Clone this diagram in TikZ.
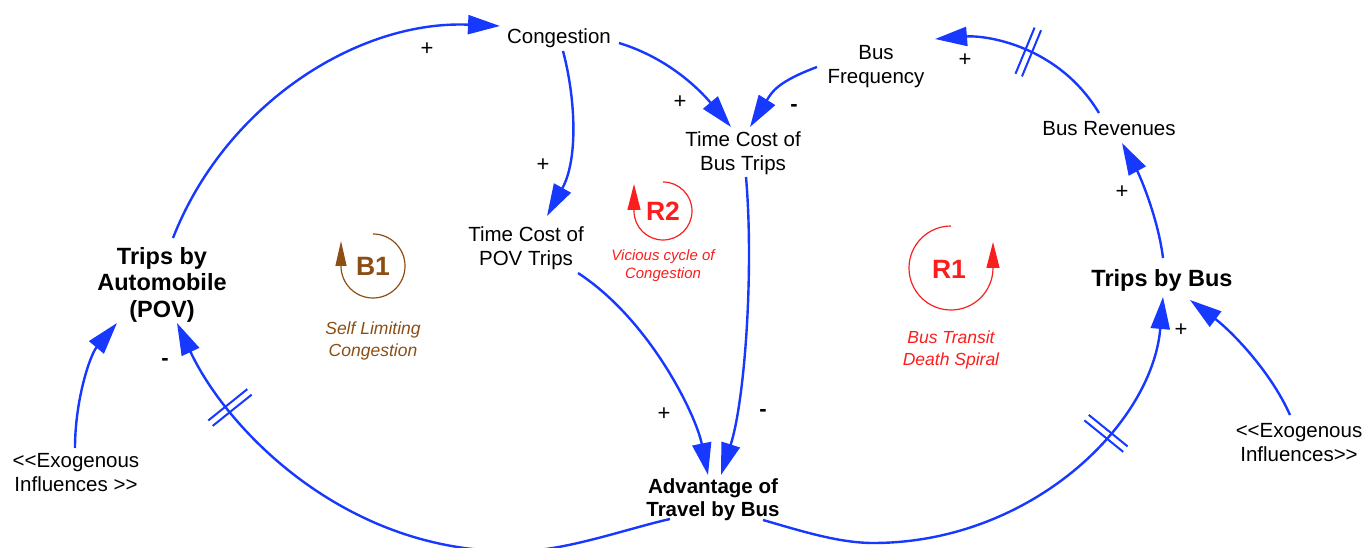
\documentclass[tikz,border=0pt]{standalone}
\usepackage{fontspec}
\setmainfont{Liberation Sans}
\usetikzlibrary{arrows.meta,decorations.markings}
\definecolor{cldblue}{RGB}{22,56,255}
\definecolor{loopred}{RGB}{250,30,30}
\definecolor{loopbrown}{RGB}{140,78,20}
\tikzset{
  var/.style={align=center, inner sep=0pt, font=\fontsize{20.5}{24}\selectfont},
  keyvar/.style={align=center, inner sep=0pt, font=\fontsize{23.5}{26.5}\selectfont\bfseries},
  advvar/.style={align=center, inner sep=0pt, font=\fontsize{20.5}{23}\selectfont\bfseries},
  link/.style={draw=cldblue, line width=2.4pt, -{Triangle[length=32pt,width=19pt]}},
  pol/.style={inner sep=0pt, font=\fontsize{22}{24}\selectfont},
  neg/.style={inner sep=0pt, font=\fontsize{22}{24}\selectfont\bfseries},
  delay/.style={postaction={decorate, decoration={markings, mark=at position #1 with {\draw[cldblue, line width=2pt, -] (-3.5pt,-25pt) -- (-3.5pt,25pt) (3.5pt,-25pt) -- (3.5pt,25pt);}}}},
  loopname/.style={inner sep=0pt, font=\fontsize{26.5}{30}\selectfont\bfseries},
  looptxt/.style={align=center, inner sep=0pt, font=\fontsize{17.5}{22}\selectfont\itshape},
  loopcirc/.style={line width=1.2pt},
}
\begin{document}
\begin{tikzpicture}[x=1pt, y=-1pt]
\useasboundingbox (0,0) rectangle (1366,548);
% variables
\node[var] (cong) at (559,38) {Congestion};
\node[var] (freq) at (876,67) {Bus\\Frequency};
\node[var] (tbus) at (743,153) {Time Cost of\\Bus Trips};
\node[var] (rev) at (1109,129) {Bus Revenues};
\node[keyvar] (tripsbus) at (1162,280) {Trips by Bus};
\node[var] (tpov) at (526,248) {Time Cost of\\POV Trips};
\node[keyvar] (auto) at (162,284.5) {Trips by\\Automobile\\(POV)};
\node[advvar] (adv) at (713,500) {Advantage of\\Travel by Bus};
\node[var] (exoL) at (76,473) {<\kern0pt<Exogenous\\Influences >\kern0pt>};
\node[var] (exoR) at (1299,443) {<\kern0pt<Exogenous\\Influences>\kern0pt>};
% links
\draw[link] ([shift={(11,-46.5)}]auto.center) .. controls (225,105) and (357,20) .. ([shift={(-59,-12)}]cong.center);
\draw[link] ([shift={(60,5)}]cong.center) .. controls (668,58) and (699,89) .. ([shift={(-12,-26)}]tbus.center);
\draw[link] ([shift={(4,13)}]cong.center) .. controls (576,100) and (578,160) .. ([shift={(21,-32)}]tpov.center);
\draw[link] ([shift={(-59,0)}]freq.center) .. controls (777,82) and (772,92) .. ([shift={(7,-26)}]tbus.center);
\draw[link, delay=0.5] ([shift={(-10,-16)}]rev.center) .. controls (1058,45) and (985,35) .. ([shift={(59,-28)}]freq.center);
\draw[link] ([shift={(1,-22)}]tripsbus.center) .. controls (1158,218) and (1140,176) .. ([shift={(13,14)}]rev.center);
\draw[link] ([shift={(52,25)}]tpov.center) .. controls (650,320) and (696,415) .. ([shift={(-5,-25)}]adv.center);
\draw[link] ([shift={(3,24)}]tbus.center) .. controls (754,270) and (745,400) .. ([shift={(8,-25)}]adv.center);
\draw[link, delay=-150pt] ([shift={(50,20)}]adv.center) .. controls (798,530) and (838,543) .. (873,543)
   .. controls (1030,543) and (1152,425) .. ([shift={(1,17)}]tripsbus.center);
\draw[link, delay=-100pt] ([shift={(-43,19)}]adv.center) .. controls (626,529) and (565,551) .. (520,551)
   .. controls (350,556) and (228,432) .. ([shift={(15,38.5)}]auto.center);
\draw[link] ([shift={(-1,-25)}]exoL.center) .. controls (75,400) and (90,355) .. ([shift={(-45,38.5)}]auto.center);
\draw[link] ([shift={(-9,-28)}]exoR.center) .. controls (1270,370) and (1230,330) .. ([shift={(28,20)}]tripsbus.center);
% polarities
\node[pol] (s1) at (427,49) {+};
\node[pol] (s2) at (680,102) {+};
\node[neg] (s3) at (794,108) {-};
\node[pol] (s4) at (543,165) {+};
\node[pol] (s5) at (965,60) {+};
\node[pol] (s6) at (1122,192) {+};
\node[pol] (s7) at (1181,330) {+};
\node[neg] (s8) at (165,362) {-};
\node[pol] (s9) at (664,414) {+};
\node[neg] (s10) at (763,413) {-};
% loops
\node[loopname, text=loopbrown] (b1) at (373,266) {B1};
\draw[loopbrown, loopcirc, -{Triangle[length=25pt,width=11pt]}] (b1.center) ++(90:32pt) arc[start angle=90, end angle=-180, radius=32pt] -- ++(0pt,25pt);
\node[looptxt, text=loopbrown] (b1t) at (373,341) {Self Limiting\\Congestion};
\node[loopname, text=loopred] (r2) at (663,211) {R2};
\draw[loopred, loopcirc, -{Triangle[length=26pt,width=13pt]}] (r2.center) ++(90:29pt) arc[start angle=90, end angle=-180, radius=29pt] -- ++(0pt,27pt);
\node[looptxt, text=loopred, font=\fontsize{15}{18}\selectfont\itshape] (r2t) at (663,266) {Vicious cycle of\\Congestion};
\node[loopname, text=loopred] (r1) at (949,269) {R1};
\draw[loopred, loopcirc, -{Triangle[length=26pt,width=13pt]}] ([shift={(2,-1)}]r1.center) ++(90:42pt) arc[start angle=90, end angle=360, radius=42pt] -- ++(0pt,26pt);
\node[looptxt, text=loopred] (r1t) at (951,349.5) {Bus Transit\\Death Spiral};
\end{tikzpicture}
\end{document}
